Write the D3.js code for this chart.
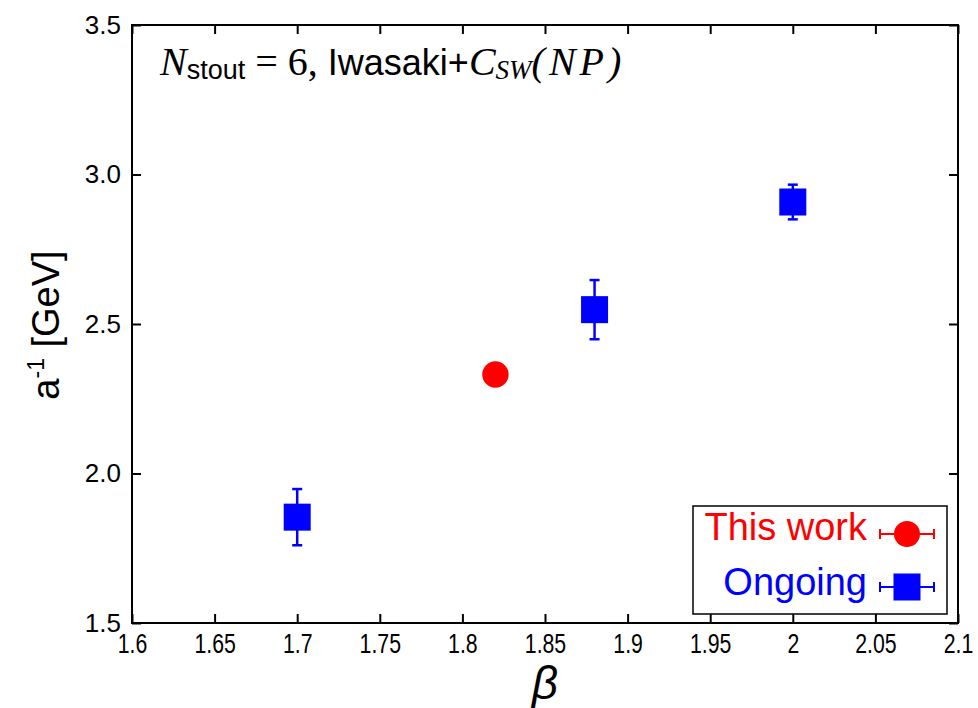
<!DOCTYPE html>
<html>
<head>
<meta charset="utf-8">
<script src="https://cdn.jsdelivr.net/npm/d3@7"></script>
<style>
  html, body { margin: 0; padding: 0; background: #fff; }
  svg { display: block; }
  text { font-family: "Liberation Sans", Arial, sans-serif; }
</style>
</head>
<body>
<svg id="chart" width="978" height="708"></svg>
<script>
// ---- data ----
const betaOngoing = [1.7, 1.88, 2.0];
const aInvOngoing = [1.854, 2.548, 2.908];
const errOngoing  = [0.094, 0.099, 0.058];

const betaThis = [1.82];
const aInvThis = [2.331];
const errThis  = [0.02];

const xTicks = [1.6, 1.65, 1.7, 1.75, 1.8, 1.85, 1.9, 1.95, 2.0, 2.05, 2.1];
const xTickLabels = ["1.6", "1.65", "1.7", "1.75", "1.8", "1.85", "1.9", "1.95", "2", "2.05", "2.1"];
const yTicks = [1.5, 2.0, 2.5, 3.0, 3.5];
const yTickLabels = ["1.5", "2.0", "2.5", "3.0", "3.5"];

const legendLabels = ["This work", "Ongoing"];

// ---- layout ----
const svg = d3.select("#chart");
const L = 132, R = 958, T = 25, B = 623;
const x = d3.scaleLinear().domain([1.6, 2.1]).range([L, R]);
const y = d3.scaleLinear().domain([1.5, 3.5]).range([B, T]);

// axes
const gx = svg.append("g").attr("transform", `translate(0,${B})`)
  .call(d3.axisBottom(x).tickValues(xTicks).tickSize(-9).tickPadding(10)
    .tickFormat((d, i) => xTickLabels[i]));
const gxt = svg.append("g").attr("transform", `translate(0,${T})`)
  .call(d3.axisTop(x).tickValues(xTicks).tickSize(-9).tickFormat(""));
const gy = svg.append("g").attr("transform", `translate(${L},0)`)
  .call(d3.axisLeft(y).tickValues(yTicks).tickSize(-9).tickPadding(11)
    .tickFormat((d, i) => yTickLabels[i]));
const gyr = svg.append("g").attr("transform", `translate(${R},0)`)
  .call(d3.axisRight(y).tickValues(yTicks).tickSize(-9).tickFormat(""));

[gx, gxt, gy, gyr].forEach(g => {
  g.select(".domain").remove();
  g.selectAll(".tick line").attr("stroke", "#000").attr("stroke-width", 2);
});
gx.selectAll(".tick text")
  .attr("font-size", 28).attr("fill", "#000")
  .attr("font-family", "Liberation Sans, Arial, sans-serif")
  .attr("transform", "scale(0.76,1)");
gy.selectAll(".tick text")
  .attr("font-size", 26).attr("fill", "#000")
  .attr("font-family", "Liberation Sans, Arial, sans-serif");

// frame
svg.append("rect").attr("x", L).attr("y", T).attr("width", R - L).attr("height", B - T)
  .attr("fill", "none").attr("stroke", "#000").attr("stroke-width", 2);

// axis titles
svg.append("text").attr("x", (L + R) / 2).attr("y", 699)
  .attr("text-anchor", "middle")
  .attr("font-family", "Liberation Serif, Times New Roman, serif")
  .attr("font-style", "italic").attr("font-size", 46).text("β");

const yt = svg.append("text")
  .attr("transform", "translate(59,325) rotate(-90)")
  .attr("text-anchor", "middle").attr("font-size", 38);
yt.append("tspan").text("a");
yt.append("tspan").attr("dy", -15).attr("font-size", 23).text("-1");
yt.append("tspan").attr("dy", 15).text(" [GeV]");

// annotation
const serif = "Liberation Serif, Times New Roman, serif";
const ann = svg.append("text").attr("x", 160).attr("y", 75);
ann.append("tspan").attr("font-family", serif).attr("font-style", "italic")
  .attr("font-size", 40).text("N");
ann.append("tspan").attr("font-size", 27).attr("dy", 4).text("stout");
ann.append("tspan").attr("font-family", serif)
  .attr("font-size", 40).attr("dy", -4).text(" = 6,");
ann.append("tspan").attr("font-size", 36).text(" Iwasaki+");
ann.append("tspan").attr("font-family", serif).attr("font-style", "italic")
  .attr("font-size", 40).text("C");
ann.append("tspan").attr("font-family", serif).attr("font-style", "italic")
  .attr("font-size", 27).attr("dy", 4).text("SW");
ann.append("tspan").attr("font-family", serif).attr("font-style", "italic")
  .attr("font-size", 40).attr("letter-spacing", 4).attr("dy", -4).text("(NP)");

// error bars + markers
function errorBars(xs, ys, es, color) {
  const g = svg.append("g").attr("stroke", color).attr("stroke-width", 2.5);
  xs.forEach((b, i) => {
    const cx = x(b), y1 = y(ys[i] + es[i]), y2 = y(ys[i] - es[i]);
    g.append("line").attr("x1", cx).attr("x2", cx).attr("y1", y1).attr("y2", y2);
    g.append("line").attr("x1", cx - 5).attr("x2", cx + 5).attr("y1", y1).attr("y2", y1);
    g.append("line").attr("x1", cx - 5).attr("x2", cx + 5).attr("y1", y2).attr("y2", y2);
  });
}
errorBars(betaOngoing, aInvOngoing, errOngoing, "#0000ff");
errorBars(betaThis, aInvThis, errThis, "#ff0000");

const sq = 27;
svg.append("g").selectAll("rect").data(betaOngoing).join("rect")
  .attr("x", d => x(d) - sq / 2)
  .attr("y", (d, i) => y(aInvOngoing[i]) - sq / 2)
  .attr("width", sq).attr("height", sq).attr("fill", "#0000ff");

svg.append("g").selectAll("circle").data(betaThis).join("circle")
  .attr("cx", d => x(d)).attr("cy", (d, i) => y(aInvThis[i]))
  .attr("r", 13.2).attr("fill", "#ff0000");

// legend
const lg = svg.append("g");
lg.append("rect").attr("x", 693).attr("y", 506).attr("width", 254).attr("height", 108)
  .attr("fill", "#fff").attr("stroke", "#000").attr("stroke-width", 1.5);
const legColors = ["#ff0000", "#0000ff"];
const legY = [534, 587];
const legBase = [540, 595];
legendLabels.forEach((t, i) => {
  lg.append("text").attr("x", 867).attr("y", legBase[i]).attr("text-anchor", "end")
    .attr("font-size", 38).attr("fill", legColors[i]).text(t);
  const c = legColors[i], cy = legY[i];
  lg.append("line").attr("x1", 880).attr("x2", 934).attr("y1", cy).attr("y2", cy)
    .attr("stroke", c).attr("stroke-width", 2);
  [880, 934].forEach(xx => lg.append("line").attr("x1", xx).attr("x2", xx)
    .attr("y1", cy - 5).attr("y2", cy + 5).attr("stroke", c).attr("stroke-width", 2));
  if (i === 0) {
    lg.append("circle").attr("cx", 907).attr("cy", cy).attr("r", 13).attr("fill", c);
  } else {
    lg.append("rect").attr("x", 907 - 13.5).attr("y", cy - 13.5).attr("width", 27).attr("height", 27).attr("fill", c);
  }
});
</script>
</body>
</html>
